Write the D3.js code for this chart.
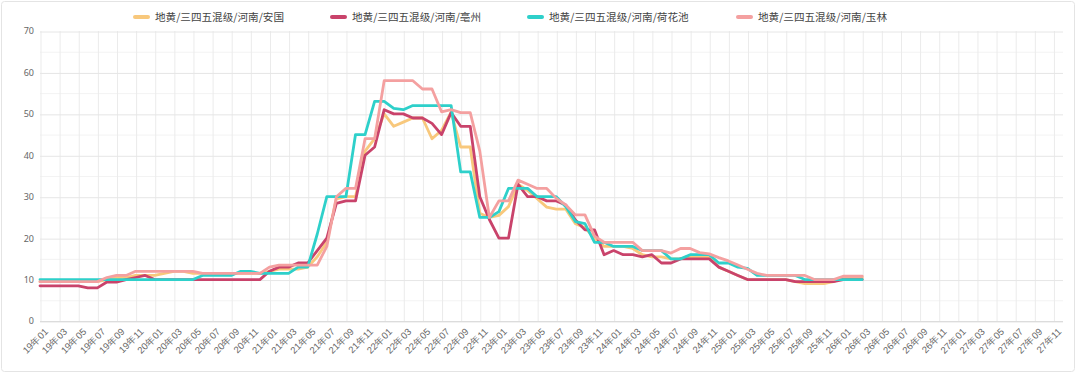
<!DOCTYPE html>
<html><head><meta charset="utf-8">
<script src="https://cdn.jsdelivr.net/npm/d3@7/dist/d3.min.js"></script>
<style>
html,body{margin:0;padding:0;background:#fff;}
svg{display:block;font-family:"Noto Sans CJK SC","Noto Sans",sans-serif;}
</style></head><body>
<svg id="chart" width="1080" height="374"></svg>
<script>
// ---- data ----
const years = ["19","20","21","22","23","24","25","26","27"];
const months = ["01","02","03","04","05","06","07","08","09","10","11","12"];
const categories = [];
years.forEach(y => months.forEach(m => categories.push(y + "年" + m)));

const seriesNames = ["地黄/三四五混级/河南/安国","地黄/三四五混级/河南/亳州","地黄/三四五混级/河南/荷花池","地黄/三四五混级/河南/玉林"];
const seriesColors = ["#F8C87C","#C9436B","#2ED0CA","#F4A0A0"];

const anguo = [
  9.5,9.5,9.5,9.5,9.5,9.5,9.5,10,10.5,10.5,11,11,
  11,11.5,12,12,11.5,11.5,11.5,11.5,11.5,11.5,11.5,11.5,
  12,12.5,12.5,12.5,13,15.5,19,29.5,30,30,41,44,
  50,47,48,49,49,44,46,50.4,42,42,26,25,
  25.5,27.6,33,31.5,29.5,27.5,27,27,23.5,22.5,20,18,
  18,18,17.5,16,15.5,15.5,15,15,15.5,15.5,15.5,13,
  12,11,10,10,10,10,10,9.5,9,9,9,9.5,
  10.5,10.5,10.5];
const bozhou = [
  8.5,8.5,8.5,8.5,8.5,8,8,9.4,9.4,10,10.5,11,
  10,10,10,10,10,10,10,10,10,10,10,10,
  12,13,13,14,14,17,20,28.4,29,29,40,42,
  51,50,50,49,49,47.7,45,50.3,47,47,30,24.5,
  20,20,33,30,30,29,29,28,24.4,22,22,16,
  17,16,16,15.5,16,14,14,15,15,15,15,13,
  12,11,10,10,10,10,10,9.5,9.5,9.5,9.5,9.5,
  10,10,10];
const hehuachi = [
  10,10,10,10,10,10,10,10,10,10,10,10,
  10,10,10,10,10,11,11,11,11,12,12,11.5,
  11.5,11.5,11.5,13,13,21,30,30,30,45,45,53,
  53,51.3,51,52,52,52,52,52,36,36,25,25,
  26.4,32,32,32,30,30,30,27.6,24,23.5,19,19,
  18,18,18,17,17,17,15,15,16,16,16,14,
  14,13,12.7,11,11,11,11,11,10,10,10,10,
  10,10,10];
const yulin = [
  9.5,9.5,9.5,9.5,9.5,9.5,9.5,10.5,11,11,12,12,
  12,12,12,12,12,11.5,11.5,11.5,11.5,11.5,11.5,11.5,
  13,13.5,13.5,13.5,13.5,13.5,18,30,32,32,44,44,
  58,58,58,58,56,56,50.5,51,50.3,50.3,41,25,
  29,29,34,33,32,32,29.6,28,25.6,25.6,20.5,19,
  19,19,19,17,17,17,16.4,17.5,17.5,16.5,16.2,15.3,
  14.5,13.5,12.5,11.5,11,11,11,11,11,10,10,10,
  10.8,10.8,10.8];
const seriesValues = [anguo, bozhou, hehuachi, yulin];

const yTicks = [0,10,20,30,40,50,60,70];
const yMinor = [5,15,25,35,45,55,65];
const xTickLabels = categories.filter((c,i) => i % 2 === 0);

// ---- layout ----
const svg = d3.select("#chart");
const L = 40, R = 1063, T = 31, B = 321;

svg.append("rect").attr("x",1.5).attr("y",1.5).attr("width",1073).attr("height",370)
  .attr("rx",3).attr("fill","#fff").attr("stroke","#e4e4e4");

const x = d3.scalePoint().domain(categories).range([L, R]).padding(0);
const y = d3.scaleLinear().domain([0,70]).range([B, T]);

// minor horizontal grid
svg.append("g").selectAll("line").data(yMinor).join("line")
  .attr("x1",L).attr("x2",R).attr("y1",d=>y(d)+0.5).attr("y2",d=>y(d)+0.5)
  .attr("stroke","#f3f3f3");

// vertical grid
const gx = svg.append("g").attr("transform",`translate(0,${B})`)
  .call(d3.axisBottom(x).tickValues(xTickLabels).tickSize(-(B-T)).tickFormat(""));
gx.select(".domain").remove();
gx.selectAll("line").attr("stroke","#ebebeb").attr("transform","translate(0.5,0)");

// horizontal grid + y labels
const gy = svg.append("g").attr("transform",`translate(${L},0)`)
  .call(d3.axisLeft(y).tickValues(yTicks).tickSize(-(R-L)).tickPadding(6));
gy.select(".domain").remove();
gy.selectAll("line").attr("stroke","#e6e6e6").attr("transform","translate(0,0.5)");
gy.selectAll("text").attr("fill","#666").attr("font-size","9px")
  .attr("font-family","'Noto Sans',sans-serif");

// x axis line + labels
svg.append("line").attr("x1",L).attr("x2",R).attr("y1",B+0.5).attr("y2",B+0.5).attr("stroke","#dcdcdc");
const gxl = svg.append("g").attr("transform",`translate(0,${B})`)
  .call(d3.axisBottom(x).tickValues(xTickLabels).tickSize(0));
gxl.select(".domain").remove();
gxl.selectAll("text")
  .attr("fill","#666").attr("font-size","9.5px")
  .attr("text-anchor","end")
  .attr("transform","translate(2,5) rotate(-45)")
  .attr("dy","0.6em").attr("dx","0");

// lines
const line = d3.line().x((d,i)=>x(categories[i])).y(d=>y(d));
seriesValues.forEach((vals,k)=>{
  svg.append("path").datum(vals)
    .attr("d",line).attr("fill","none")
    .attr("stroke",seriesColors[k]).attr("stroke-width",2.8)
    .attr("stroke-linejoin","round").attr("stroke-linecap","round");
});

// legend
const legendX = [133, 330, 527, 736];
const lg = svg.append("g");
seriesNames.forEach((n,k)=>{
  const g = lg.append("g").attr("transform",`translate(${legendX[k]},17)`);
  g.append("rect").attr("x",0).attr("y",-2).attr("width",17).attr("height",4).attr("rx",2)
    .attr("fill",seriesColors[k]);
  g.append("text").attr("x",22).attr("y",0).attr("dy","0.35em")
    .attr("font-size","10.6px").attr("fill","#444").text(n);
});
</script>
</body></html>
